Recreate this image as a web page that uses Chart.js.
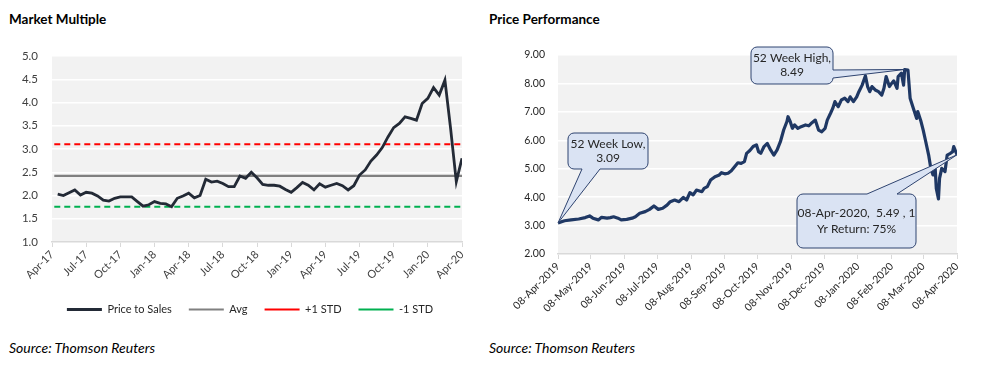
<!DOCTYPE html>
<html>
<head>
<meta charset="utf-8">
<script src="https://cdn.jsdelivr.net/npm/chart.js@4.4.3/dist/chart.umd.min.js"></script>
<style>
  html, body { margin: 0; padding: 0; background: #fff; }
  #page { position: relative; width: 990px; height: 370px; font-family: Lato, sans-serif; color: #000; }
  .title { position: absolute; top: 11px; font-weight: bold; font-size: 13.5px; }
  .source { position: absolute; top: 339px; font-style: italic; font-size: 14px; }
  canvas { position: absolute; top: 0; }
</style>
</head>
<body>
<div id="page">
  <div class="title" style="left:9px">Market Multiple</div>
  <div class="title" style="left:489px">Price Performance</div>
  <canvas id="left" width="480" height="325" style="left:0"></canvas>
  <canvas id="right" width="510" height="330" style="left:480px"></canvas>
  <div class="source" style="left:9px">Source: Thomson Reuters</div>
  <div class="source" style="left:489px">Source: Thomson Reuters</div>
</div>
<script>
// Market multiple: price to sales, sampled every half month from Apr-17
const quarterLabels = ['Apr-17', 'Jul-17', 'Oct-17', 'Jan-18', 'Apr-18', 'Jul-18', 'Oct-18',
  'Jan-19', 'Apr-19', 'Jul-19', 'Oct-19', 'Jan-20', 'Apr-20'];
const priceToSales = [
  2.03, 2.00, 2.06, 2.12, 2.01, 2.07, 2.05, 1.99, 1.90, 1.88, 1.94, 1.97,
  1.97, 1.97, 1.87, 1.77, 1.80, 1.87, 1.83, 1.82, 1.76, 1.94, 1.99, 2.05,
  1.95, 2.00, 2.35, 2.29, 2.31, 2.26, 2.19, 2.19, 2.42, 2.37, 2.50, 2.38,
  2.24, 2.22, 2.22, 2.20, 2.13, 2.07, 2.17, 2.28, 2.22, 2.12, 2.25, 2.18,
  2.22, 2.26, 2.21, 2.12, 2.21, 2.44, 2.55, 2.74, 2.87, 3.03, 3.26, 3.46,
  3.55, 3.69, 3.66, 3.62, 3.98, 4.09, 4.32, 4.16, 4.48, 3.44, 2.30, 2.80
];
const psAvg = 2.42;
const psPlusStd = 3.10;
const psMinusStd = 1.76;

// Price performance: days since 08-Apr-2019 and closing price
const priceTickLabels = ['08-Apr-2019', '08-May-2019', '08-Jun-2019', '08-Jul-2019', '08-Aug-2019',
  '08-Sep-2019', '08-Oct-2019', '08-Nov-2019', '08-Dec-2019', '08-Jan-2020', '08-Feb-2020',
  '08-Mar-2020', '08-Apr-2020'];
const priceTickDays = [0, 30, 61, 91, 122, 153, 183, 214, 244, 275, 306, 335, 366];
const priceDays = [
  0, 6, 12, 19, 25, 29, 32, 37, 40, 45, 48, 51, 55, 58, 63, 68, 71, 75, 80, 84,
  88, 92, 96, 100, 103, 107, 111, 115, 118, 121, 124, 127, 132, 134, 137, 140, 144, 148, 150, 153,
  156, 159, 162, 165, 168, 171, 173, 176, 179, 182, 184, 186, 189, 192, 195, 198, 201, 204, 207, 210,
  211, 213, 215, 217, 220, 223, 227, 230, 233, 236, 239, 242, 245, 247, 250, 252, 254, 257, 260, 263,
  266, 268, 271, 274, 276, 279, 282, 284, 286, 288, 291, 294, 297, 299, 301, 304, 306, 308, 311, 312,
  315, 317, 318, 321, 323, 326, 329, 330, 333, 335, 337, 340, 342, 344, 346, 347, 349, 350, 352, 355,
  357, 360, 362, 363, 366
];
const priceValues = [
  3.09, 3.17, 3.20, 3.23, 3.28, 3.34, 3.26, 3.20, 3.29, 3.26, 3.28, 3.31, 3.26, 3.20, 3.22, 3.26, 3.31, 3.43, 3.49, 3.57,
  3.69, 3.57, 3.61, 3.72, 3.84, 3.90, 3.84, 3.99, 3.90, 4.16, 4.08, 4.25, 4.19, 4.31, 4.37, 4.60, 4.72, 4.78, 4.86, 4.82,
  4.84, 4.93, 5.07, 5.21, 5.19, 5.25, 5.54, 5.64, 5.78, 5.84, 5.60, 5.54, 5.78, 5.89, 5.66, 5.48, 5.66, 5.95, 6.36, 6.66,
  6.83, 6.66, 6.42, 6.54, 6.42, 6.48, 6.54, 6.51, 6.62, 6.71, 6.36, 6.30, 6.42, 6.71, 6.95, 7.12, 7.36, 7.18, 7.42, 7.48,
  7.36, 7.53, 7.36, 7.53, 7.71, 7.94, 8.27, 7.89, 7.71, 7.89, 7.77, 7.71, 7.59, 7.83, 8.24, 7.89, 8.00, 8.09, 7.83, 8.24,
  8.36, 7.94, 8.49, 8.47, 7.48, 7.12, 6.77, 7.01, 6.66, 6.36, 6.01, 5.48, 5.01, 4.78, 5.01, 4.31, 3.94, 4.66, 5.01, 4.90,
  5.48, 5.54, 5.60, 5.78, 5.49
];
const calloutTexts = [['52 Week Low,', '3.09'], ['52 Week High,', '8.49'], ['08-Apr-2020,  5.49 , 1', 'Yr Return: 75%']];
const calloutDays = [0, 318, 366];
const calloutValues = [3.09, 8.49, 5.49];

Chart.defaults.font.family = 'Lato, sans-serif';
Chart.defaults.color = '#404040';

const plotBg = {
  id: 'plotBg',
  beforeDraw(chart) {
    const a = chart.chartArea, ctx = chart.ctx;
    ctx.save();
    ctx.fillStyle = '#f2f2f2';
    ctx.fillRect(a.left, a.top, a.right - a.left, a.bottom - a.top);
    ctx.restore();
  }
};

// nudge the legend a little left so it sits under the plot like the original
const legendNudge = {
  id: 'legendNudge',
  afterLayout(chart) {
    if (chart.legend) { chart.legend.left -= 7; chart.legend.right -= 7; }
  }
};

new Chart(document.getElementById('left'), {
  type: 'line',
  data: {
    datasets: [
      { label: 'Price to Sales', data: priceToSales.map((v, i) => ({ x: (i + 1) * 0.5, y: v })),
        borderColor: '#232a36', borderWidth: 2.8 },
      { label: 'Avg', data: [{ x: 0.2, y: psAvg }, { x: 36, y: psAvg }], borderColor: '#808080', borderWidth: 2.2 },
      { label: '+1 STD', data: [{ x: 0.2, y: psPlusStd }, { x: 36, y: psPlusStd }], borderColor: '#ff0000',
        borderWidth: 2, borderDash: [6, 4] },
      { label: '-1 STD', data: [{ x: 0.2, y: psMinusStd }, { x: 36, y: psMinusStd }], borderColor: '#00b050',
        borderWidth: 2, borderDash: [6, 4] }
    ]
  },
  options: {
    responsive: false,
    animation: false,
    layout: { padding: { top: 56, left: 0, right: 18, bottom: 0 } },
    elements: { point: { radius: 0 }, line: { tension: 0 } },
    plugins: {
      tooltip: { enabled: false },
      legend: {
        position: 'bottom',
        fullSize: false,
        labels: { usePointStyle: true, pointStyle: 'line', pointStyleWidth: 35, padding: 17,
          color: '#262626', font: { size: 11 } }
      }
    },
    scales: {
      x: {
        type: 'linear', min: 0, max: 36,
        afterBuildTicks(s) { s.ticks = quarterLabels.map((_, i) => ({ value: i * 3 })); },
        afterFit(s) { s.height = 45; },
        ticks: { autoSkip: false, minRotation: 45, maxRotation: 45, padding: 1, font: { size: 11 },
          color: '#404040', callback: (v) => quarterLabels[Math.round(v / 3)] },
        grid: { drawOnChartArea: false, color: '#d9d9d9', tickLength: 5 },
        border: { color: '#d9d9d9', width: 1.5 }
      },
      y: {
        min: 1, max: 5,
        afterFit(s) { s.width = 52; },
        ticks: { stepSize: 0.5, padding: 14, font: { size: 11.5 }, color: '#404040',
          callback: (v) => v.toFixed(1) },
        grid: { color: '#ffffff', lineWidth: 1.5, drawTicks: false },
        border: { display: false }
      }
    }
  },
  plugins: [plotBg, legendNudge]
});

function calloutPath(ctx, x, y, w, h, r, side, a, b, tx, ty) {
  ctx.beginPath();
  ctx.moveTo(x + r, y);
  if (side === 'top') { ctx.lineTo(a, y); ctx.lineTo(tx, ty); ctx.lineTo(b, y); }
  ctx.lineTo(x + w - r, y);
  ctx.arcTo(x + w, y, x + w, y + r, r);
  if (side === 'right') { ctx.lineTo(x + w, a); ctx.lineTo(tx, ty); ctx.lineTo(x + w, b); }
  ctx.lineTo(x + w, y + h - r);
  ctx.arcTo(x + w, y + h, x + w - r, y + h, r);
  if (side === 'bottom') { ctx.lineTo(b, y + h); ctx.lineTo(tx, ty); ctx.lineTo(a, y + h); }
  ctx.lineTo(x + r, y + h);
  ctx.arcTo(x, y + h, x, y + h - r, r);
  ctx.lineTo(x, y + r);
  ctx.arcTo(x, y, x + r, y, r);
  ctx.closePath();
}

// box geometry in canvas pixels: [x, y, w, h], pointer side and base
const calloutBoxes = [
  { box: [88, 133, 80, 36], side: 'bottom', base: [102, 120], gap: 14 },
  { box: [271, 47, 82, 37], side: 'right', base: [70, 78], gap: 14 },
  { box: [317, 194, 119, 54], side: 'top', base: [387, 417], gap: 16 }
];

const callouts = {
  id: 'callouts',
  afterDraw(chart) {
    const ctx = chart.ctx, xs = chart.scales.x, ys = chart.scales.y;
    calloutBoxes.forEach((c, i) => {
      const [x, y, w, h] = c.box;
      const tx = xs.getPixelForValue(calloutDays[i]);
      const ty = ys.getPixelForValue(calloutValues[i]);
      ctx.save();
      calloutPath(ctx, x, y, w, h, 6, c.side, c.base[0], c.base[1], tx, ty);
      ctx.fillStyle = '#dae3f3';
      ctx.fill();
      ctx.lineWidth = 1;
      ctx.strokeStyle = '#2f4470';
      ctx.stroke();
      ctx.fillStyle = '#262626';
      ctx.font = '12px Lato, sans-serif';
      ctx.textAlign = 'center';
      ctx.textBaseline = 'middle';
      const lines = calloutTexts[i];
      const cy = y + h / 2 - (lines.length - 1) * c.gap / 2;
      lines.forEach((t, k) => ctx.fillText(t, x + w / 2, cy + k * c.gap));
      ctx.restore();
    });
  }
};

new Chart(document.getElementById('right'), {
  type: 'line',
  data: {
    datasets: [
      { label: 'Price', data: priceDays.map((d, i) => ({ x: d, y: priceValues[i] })),
        borderColor: '#1f3864', borderWidth: 3.2, borderJoinStyle: 'round' }
    ]
  },
  options: {
    responsive: false,
    animation: false,
    layout: { padding: { top: 55, left: 0, right: 33, bottom: 0 } },
    elements: { point: { radius: 0 }, line: { tension: 0 } },
    plugins: { tooltip: { enabled: false }, legend: { display: false } },
    scales: {
      x: {
        type: 'linear', min: 0, max: 366,
        afterBuildTicks(s) { s.ticks = priceTickDays.map((d) => ({ value: d })); },
        afterFit(s) { s.height = 76; },
        ticks: { autoSkip: false, minRotation: 45, maxRotation: 45, padding: 1, font: { size: 10.5 },
          color: '#262626', callback: (v) => priceTickLabels[priceTickDays.indexOf(v)] },
        grid: { drawOnChartArea: false, color: '#d9d9d9', tickLength: 5 },
        border: { color: '#d9d9d9', width: 1.5 }
      },
      y: {
        min: 2, max: 9,
        afterFit(s) { s.width = 78; },
        ticks: { stepSize: 1, padding: 13, font: { size: 10.5 }, color: '#262626',
          callback: (v) => v.toFixed(2) },
        grid: { color: '#ffffff', lineWidth: 1.5, drawTicks: false },
        border: { display: false }
      }
    }
  },
  plugins: [plotBg, callouts]
});
</script>
</body>
</html>
